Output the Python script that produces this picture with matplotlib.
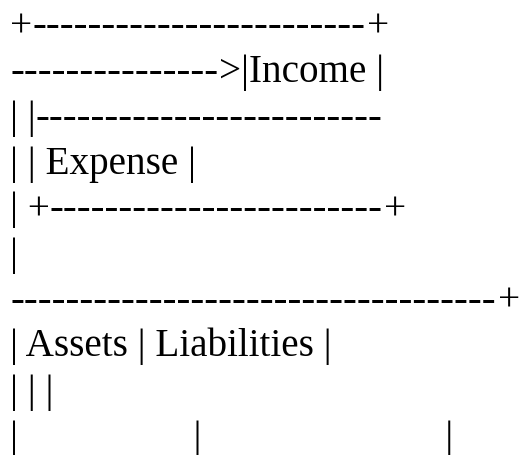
import re
import matplotlib
matplotlib.use("Agg")
import matplotlib.pyplot as plt
from matplotlib import font_manager, ft2font

# text lines of the diagram
lines = [
    "+" + "-" * 24 + "+",
    "-" * 15 + ">|Income |",
    "| |" + "-" * 25,
    "| | Expense |",
    "| +" + "-" * 24 + "+",
    "|",
    "-" * 35 + "+",
    "| Assets | Liabilities |",
    "| | |",
    "|" + " " * 18 + "|" + " " * 25 + "|",
]

family = "Liberation Serif"
fs = 28.2       # words, bars, plus signs
dash_fs = 30.2  # the hyphens come out a bit wider in the reference
dpi = 100

font = ft2font.FT2Font(font_manager.findfont(family))


def advance(s, size):
    # unhinted advance width in pixels
    font.set_size(size, dpi)
    w = 0
    for c in s:
        g = font.load_char(ord(c))
        w += g.linearHoriAdvance / 65536
    return w


fig = plt.figure(figsize=(5.22, 4.55), dpi=dpi)
ax = fig.add_axes([0, 0, 1, 1])
ax.set_xlim(0, 522)
ax.set_ylim(455, 0)
ax.axis("off")

top = 36.5
step = 45.7
for i, s in enumerate(lines):
    x = 10
    y = top + i * step
    for tok in re.findall(r"-+|[^-]+", s):
        size = dash_fs if tok[0] == "-" else fs
        ax.text(x, y, tok, fontsize=size, family=family,
                ha="left", va="baseline", color="black")
        x += advance(tok, size)

fig.savefig("out.png", dpi=dpi)
